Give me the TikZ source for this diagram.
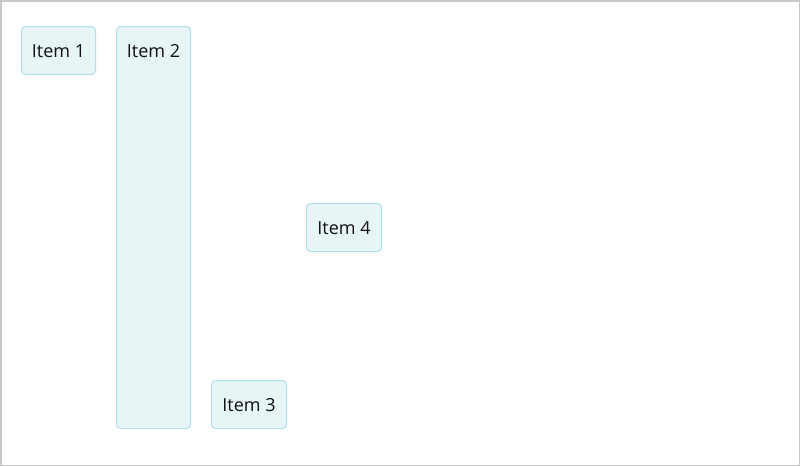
\documentclass[tikz,border=0pt]{standalone}
\usepackage{fontspec}
\setmainfont{Open Sans}
\definecolor{boxfill}{HTML}{E8F5F7}
\definecolor{boxline}{HTML}{B0E0EA}
\definecolor{frame}{HTML}{C8C8C8}
\definecolor{txt}{HTML}{111111}
\begin{document}
\begin{tikzpicture}[x=1pt,y=-1pt,
  itembox/.style={draw=boxline,fill=boxfill,line width=1pt,rounded corners=4pt},
  itemlabel/.style={font=\fontsize{18}{21}\selectfont,text=txt,inner sep=0pt,anchor=center}]
\useasboundingbox (0,0) rectangle (800,466);
\draw[frame,line width=1.5pt] (0.75,0.75) rectangle (799.25,465.25);
\draw[itembox] (21.5,26.5) rectangle (95.5,74.5);
\node[itemlabel] (i1) at (58.5,51) {Item 1};
\draw[itembox] (116.5,26.5) rectangle (190.5,428.5);
\node[itemlabel] (i2) at (153.5,51) {Item 2};
\draw[itembox] (211.5,380.5) rectangle (286.5,428.5);
\node[itemlabel] (i3) at (249,405) {Item 3};
\draw[itembox] (306.5,203.5) rectangle (381.5,251.5);
\node[itemlabel] (i4) at (344,228) {Item 4};
\end{tikzpicture}
\end{document}
